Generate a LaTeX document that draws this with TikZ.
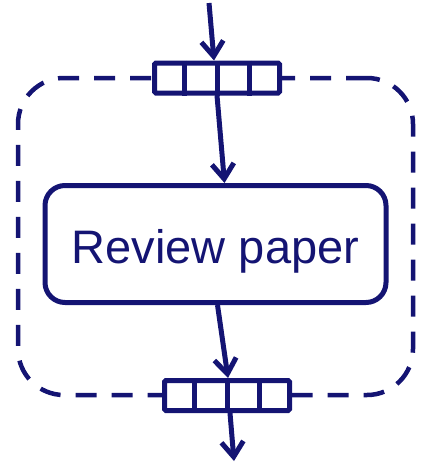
\documentclass[tikz,border=0pt]{standalone}
\usepackage{fontspec}
\setmainfont{Liberation Sans}
\usetikzlibrary{arrows.meta,calc}
\definecolor{navy}{RGB}{20,20,115}
\tikzset{
  flow/.style={draw=navy, line width=5pt, -{Straight Barb[length=15pt, width=22pt, line width=5pt]}},
  regionbox/.style={draw=navy, line width=4.5pt, dash pattern=on 21pt off 15pt,
    rounded corners=46pt, minimum width=395pt, minimum height=317pt, inner sep=0pt},
  taskbox/.style={draw=navy, fill=white, line width=5pt, rounded corners=20pt,
    minimum width=341pt, minimum height=117pt, inner sep=0pt,
    text=navy, font=\fontsize{47}{50}\selectfont, text height=38.6pt, text depth=0pt},
  pinbox/.style={draw=navy, fill=white, line width=5pt, rounded corners=1.5pt,
    minimum width=125pt, minimum height=30pt, inner sep=0pt},
}
% vertical separators dividing a pin into four cells
\newcommand{\pincells}[1]{%
  \foreach \k in {1,2,3}{%
    \draw[navy, line width=5pt]
      ($(#1.north west)!\k/4!(#1.north east)$) -- ($(#1.south west)!\k/4!(#1.south east)$);
  }}
\begin{document}
\begin{tikzpicture}[x=1pt, y=-1pt]
  \useasboundingbox (0,0) rectangle (429,463);
  \node[regionbox] (region) at (215.5,236.5) {};
  \node[taskbox] (task) at (215.5,244) {Review paper};
  \node[pinbox] (pinin) at (217,78) {};
  \pincells{pinin}
  \node[pinbox] (pinout) at (227,395.5) {};
  \pincells{pinout}
  \coordinate (src) at (209,3);
  \coordinate (sink) at (234,461);
  \draw[flow] (src) -- ([xshift=-3pt]pinin.north);
  \draw[flow] (pinin.south) -- ([xshift=9pt]task.north);
  \draw[flow] ([xshift=2pt]task.south) -- ([xshift=1pt]pinout.north);
  \draw[flow] ([xshift=3pt]pinout.south) -- (sink);
\end{tikzpicture}
\end{document}
